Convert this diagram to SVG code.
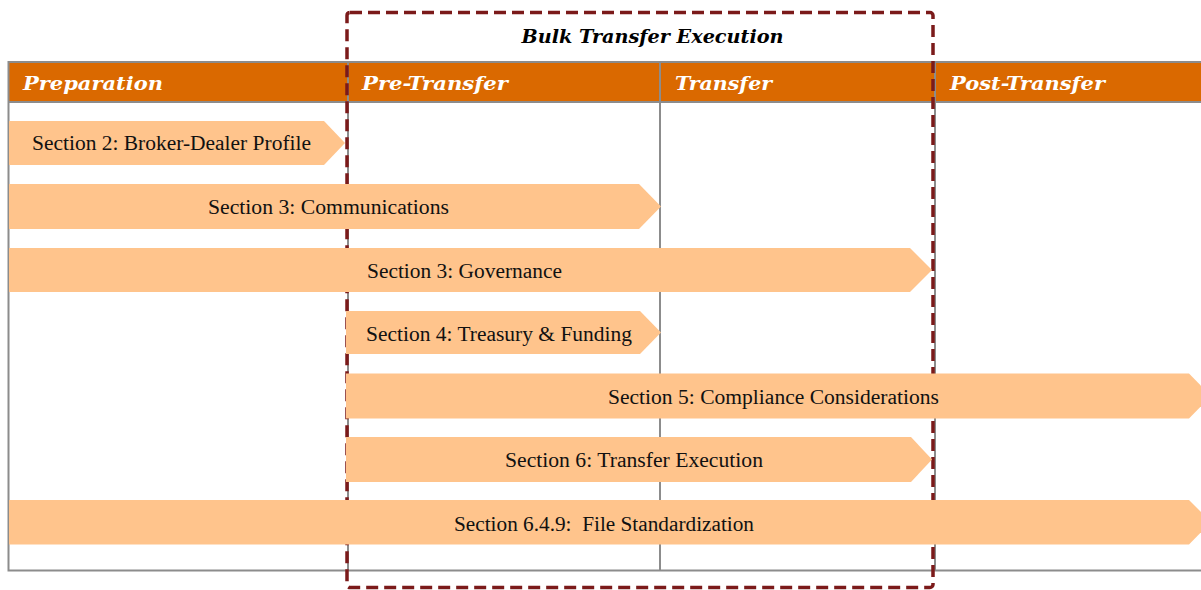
<svg xmlns="http://www.w3.org/2000/svg" width="1201" height="590" viewBox="0 0 1201 590">
  <style>
    .grid { stroke: #8C8C8C; stroke-width: 2; fill: none; }
    .head { fill: #DA6900; }
    .phase { font-family: "DejaVu Serif", "Liberation Serif", serif; font-weight: bold; font-style: italic; font-size: 19px; fill: #FFFFFF; }
    .title { font-family: "DejaVu Serif", "Liberation Serif", serif; font-weight: bold; font-style: italic; font-size: 18px; fill: #000000; }
    .bar { fill: #FFC48C; }
    .label { font-family: "Liberation Serif", "DejaVu Serif", serif; font-size: 20px; fill: #111111; }
    .scope { fill: none; stroke: #7B1A1A; stroke-width: 3.5; stroke-dasharray: 12 6; }
  </style>

  <!-- phase table -->
  <g id="table">
    <rect class="head" x="8.5" y="62" width="1193" height="40"/>
    <path class="grid" d="M1201,62 H8.5 V570.5 H1201 M8.5,102 H1201 M348,62 V570.5 M660,62 V570.5 M935,62 V570.5"/>
    <text class="phase" x="23" y="89.5" textLength="140" lengthAdjust="spacingAndGlyphs">Preparation</text>
    <text class="phase" x="362" y="89.5" textLength="146" lengthAdjust="spacingAndGlyphs">Pre-Transfer</text>
    <text class="phase" x="675" y="89.5" textLength="97" lengthAdjust="spacingAndGlyphs">Transfer</text>
    <text class="phase" x="950" y="89.5" textLength="155" lengthAdjust="spacingAndGlyphs">Post-Transfer</text>
  </g>

  <!-- dashed scope of the bulk transfer -->
  <g id="bulk-transfer-execution">
    <rect class="scope" x="347" y="12.5" width="586" height="575" rx="3"/>
    <text class="title" x="521.5" y="42.5" textLength="262" lengthAdjust="spacingAndGlyphs">Bulk Transfer Execution</text>
  </g>

  <!-- section bars -->
  <g id="section-2">
    <polygon class="bar" points="9,121 324,121 345,143 324,165 9,165"/>
    <text class="label" x="32" y="149.5" textLength="279" lengthAdjust="spacingAndGlyphs">Section 2: Broker-Dealer Profile</text>
  </g>
  <g id="section-3-communications">
    <polygon class="bar" points="9,184 639,184 661,206.5 639,229 9,229"/>
    <text class="label" x="208" y="214" textLength="241" lengthAdjust="spacingAndGlyphs">Section 3: Communications</text>
  </g>
  <g id="section-3-governance">
    <polygon class="bar" points="9,248 910,248 932,270 910,292 9,292"/>
    <text class="label" x="367" y="277.5" textLength="195" lengthAdjust="spacingAndGlyphs">Section 3: Governance</text>
  </g>
  <g id="section-4">
    <polygon class="bar" points="346,311 640,311 661,332.5 640,354 346,354"/>
    <text class="label" x="366" y="341" textLength="266" lengthAdjust="spacingAndGlyphs">Section 4: Treasury &amp; Funding</text>
  </g>
  <g id="section-5">
    <polygon class="bar" points="346,373.5 1189,373.5 1211,396 1189,418.5 346,418.5"/>
    <text class="label" x="608" y="403.5" textLength="331" lengthAdjust="spacingAndGlyphs">Section 5: Compliance Considerations</text>
  </g>
  <g id="section-6">
    <polygon class="bar" points="346,437 911,437 932,459.5 911,482 346,482"/>
    <text class="label" x="505" y="466.5" textLength="258" lengthAdjust="spacingAndGlyphs">Section 6: Transfer Execution</text>
  </g>
  <g id="section-6-4-9">
    <polygon class="bar" points="9,500 1189,500 1211,522 1189,544.5 9,544.5"/>
    <text class="label" x="454" y="531" textLength="300" lengthAdjust="spacingAndGlyphs" xml:space="preserve">Section 6.4.9:  File Standardization</text>
  </g>

  <g id="connectors"/>
</svg>
